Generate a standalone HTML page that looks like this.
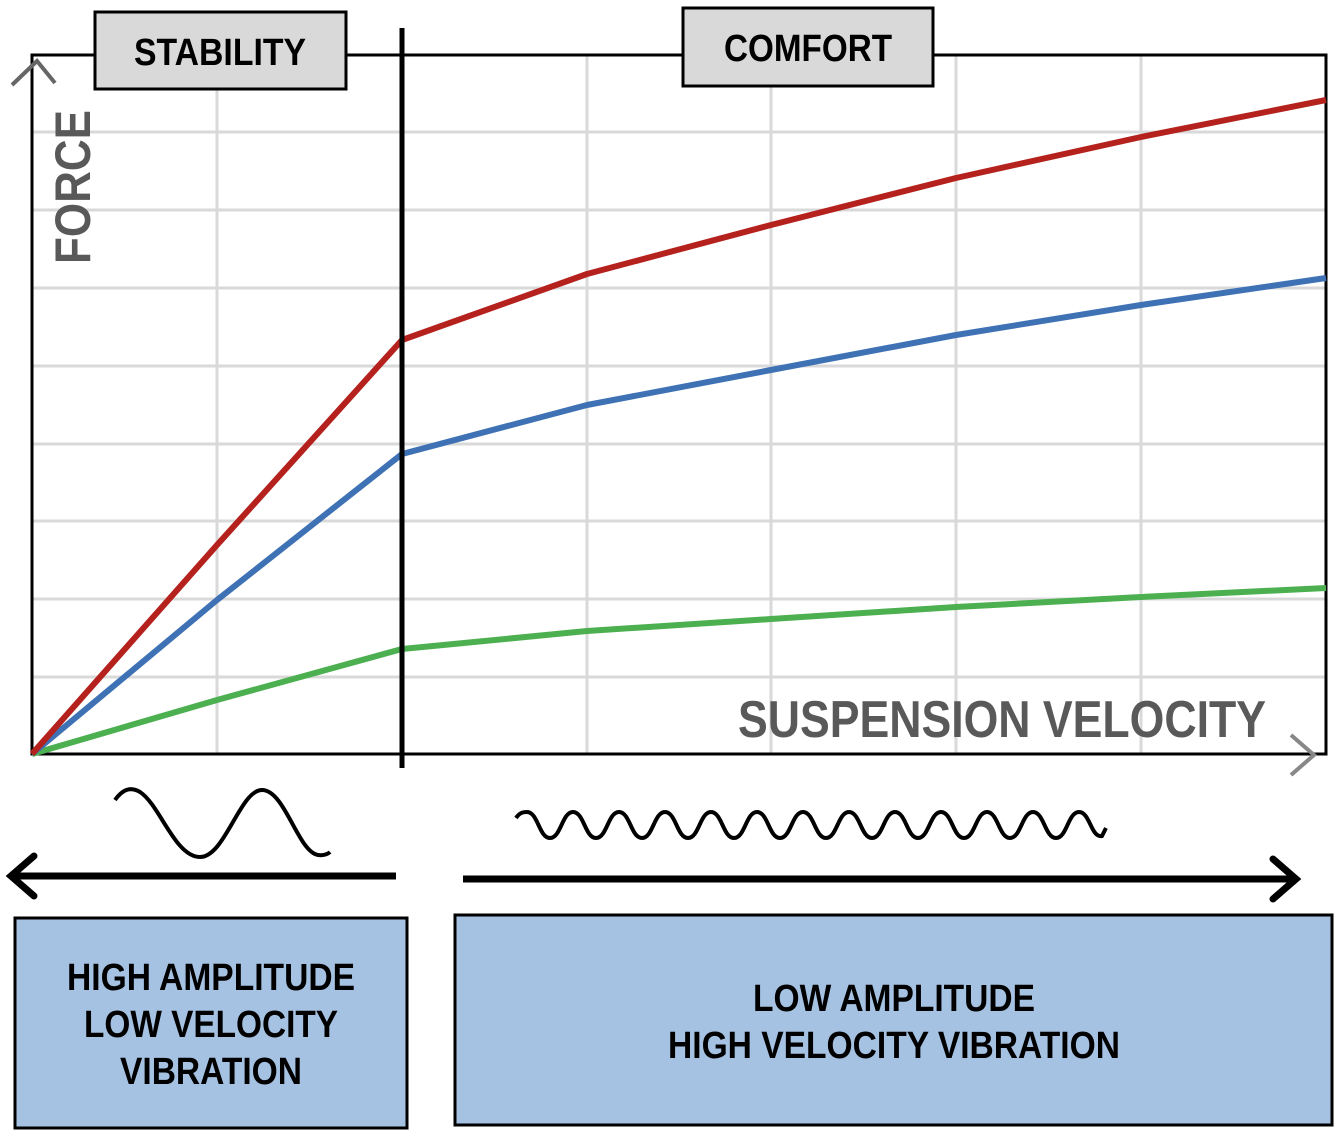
<!DOCTYPE html>
<html><head><style>html,body{margin:0;padding:0;background:#fff}svg{display:block}</style></head>
<body>
<svg width="1344" height="1134" viewBox="0 0 1344 1134" xmlns="http://www.w3.org/2000/svg" font-family="Liberation Sans, sans-serif" font-weight="bold">
<g stroke="#d9d9d9" stroke-width="3">
<line x1="217" y1="55" x2="217" y2="754"/><line x1="587" y1="55" x2="587" y2="754"/><line x1="771" y1="55" x2="771" y2="754"/><line x1="956" y1="55" x2="956" y2="754"/><line x1="1141" y1="55" x2="1141" y2="754"/>
<line x1="32" y1="132" x2="1326" y2="132"/><line x1="32" y1="210" x2="1326" y2="210"/><line x1="32" y1="288" x2="1326" y2="288"/><line x1="32" y1="366" x2="1326" y2="366"/><line x1="32" y1="444" x2="1326" y2="444"/><line x1="32" y1="521" x2="1326" y2="521"/><line x1="32" y1="599" x2="1326" y2="599"/><line x1="32" y1="677" x2="1326" y2="677"/>
</g>
<rect x="32" y="55" width="1294" height="699" fill="none" stroke="#000" stroke-width="3"/>
<polyline points="12,85 37,61 55,83" fill="none" stroke="#666" stroke-width="4"/>
<polyline points="1291,735 1314,755 1291,775" fill="none" stroke="#888" stroke-width="4"/>
<text transform="translate(90,264) rotate(-90)" font-size="50" fill="#595959" textLength="154" lengthAdjust="spacingAndGlyphs">FORCE</text>
<text x="738" y="737" font-size="52" fill="#595959" textLength="528" lengthAdjust="spacingAndGlyphs">SUSPENSION VELOCITY</text>
<g fill="none" stroke-width="6" stroke-linejoin="round">
<polyline stroke="#4caf50" points="32,754 217,700 402,649 587,631 771,619 956,607 1141,597 1326,588"/>
<polyline stroke="#3f72b5" points="32,754 217,600 402,454 587,405 771,370 956,335 1141,305 1326,278"/>
<polyline stroke="#b5221e" points="32,754 217,545 402,340 587,274 771,225 956,178 1141,137 1326,100"/>
</g>
<line x1="402" y1="28" x2="402" y2="768" stroke="#000" stroke-width="5"/>
<rect x="95" y="12" width="251" height="77" fill="#d9d9d9" stroke="#000" stroke-width="3"/>
<text x="220" y="65" font-size="38" text-anchor="middle" textLength="172" lengthAdjust="spacingAndGlyphs">STABILITY</text>
<rect x="683" y="8" width="250" height="78" fill="#d9d9d9" stroke="#000" stroke-width="3"/>
<text x="808" y="61" font-size="38" text-anchor="middle" textLength="168" lengthAdjust="spacingAndGlyphs">COMFORT</text>
<path d="M115,800 C122,790 130,786 140,792 C160,805 175,857 200,857 C225,857 240,790 262,790 C285,790 298,852 318,855 C325,856 329,853 330,852" fill="none" stroke="#000" stroke-width="4"/>
<path id="w" fill="none" stroke="#000" stroke-width="4" d="M516,818 C520,812 524,812 527,812 C538,812 539,838 550,838 C561,838 562,812 573,812 C584,812 585,838 596,838 C607,838 608,812 619,812 C630,812 631,838 642,838 C653,838 654,812 665,812 C676,812 677,838 688,838 C699,838 700,812 711,812 C722,812 723,838 734,838 C745,838 746,812 757,812 C768,812 769,838 780,838 C791,838 792,812 803,812 C814,812 815,838 826,838 C837,838 838,812 849,812 C860,812 861,838 872,838 C883,838 884,812 895,812 C906,812 907,838 918,838 C929,838 930,812 941,812 C952,812 953,838 964,838 C975,838 976,812 987,812 C998,812 999,838 1010,838 C1021,838 1022,812 1033,812 C1044,812 1045,838 1056,838 C1067,838 1068,812 1079,812 C1090,812 1091,838 1102,836 L1106,828"/>
<line x1="14" y1="876" x2="396" y2="876" stroke="#000" stroke-width="7"/>
<polyline points="34,856 11,876 34,896" fill="none" stroke="#000" stroke-width="7" stroke-linecap="round"/>
<line x1="463" y1="879" x2="1292" y2="879" stroke="#000" stroke-width="7"/>
<polyline points="1273,859 1296,879 1273,899" fill="none" stroke="#000" stroke-width="7" stroke-linecap="round"/>
<rect x="15" y="918" width="392" height="210" fill="#a6c2e2" stroke="#000" stroke-width="3"/>
<g font-size="38" text-anchor="middle">
<text x="211" y="990" textLength="288" lengthAdjust="spacingAndGlyphs">HIGH AMPLITUDE</text>
<text x="211" y="1037" textLength="254" lengthAdjust="spacingAndGlyphs">LOW VELOCITY</text>
<text x="211" y="1084" textLength="182" lengthAdjust="spacingAndGlyphs">VIBRATION</text>
</g>
<rect x="455" y="915" width="877" height="210" fill="#a6c2e2" stroke="#000" stroke-width="3"/>
<g font-size="38" text-anchor="middle">
<text x="894" y="1011" textLength="282" lengthAdjust="spacingAndGlyphs">LOW AMPLITUDE</text>
<text x="894" y="1058" textLength="452" lengthAdjust="spacingAndGlyphs">HIGH VELOCITY VIBRATION</text>
</g>
</svg>
</body></html>
